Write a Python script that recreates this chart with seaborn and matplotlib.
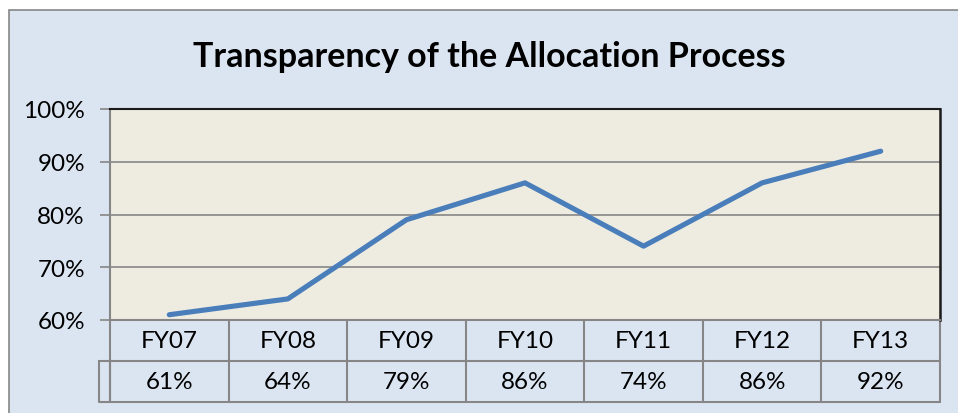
"""
Transparency of the Allocation Process - line chart with a data table underneath.
"""

import matplotlib
matplotlib.use("Agg")
import matplotlib.pyplot as plt
import matplotlib.transforms as mtransforms
from matplotlib.patches import Rectangle
import seaborn as sns

# --- data ---
years = ["FY07", "FY08", "FY09", "FY10", "FY11", "FY12", "FY13"]
values = [61, 64, 79, 86, 74, 86, 92]
y_ticks = [60, 70, 80, 90, 100]

# colours
bg_blue = "#dbe5f1"
plot_beige = "#eeece1"
line_blue = "#4a7ebb"
grid_gray = "#868686"


def main():
    sns.set_theme(style="white")
    plt.rcParams["font.family"] = ["Lato", "DejaVu Sans"]

    fig = plt.figure(figsize=(9.58, 4.14), dpi=100)
    fig.patch.set_facecolor("white")

    # outer chart frame
    W, H = 958, 414
    fig.patches.append(Rectangle((9 / W, -0.1), 1.2, (414 - 11) / H + 0.1,
                                 transform=fig.transFigure, facecolor=bg_blue,
                                 edgecolor=grid_gray, linewidth=1.2, zorder=-5))

    ax = fig.add_axes([110 / W, (414 - 321) / H, (940 - 110) / W, (321 - 110) / H])
    ax.set_zorder(2)
    ax.set_facecolor(plot_beige)

    x_pos = list(range(len(years)))
    sns.lineplot(x=x_pos, y=values, ax=ax, color=line_blue, linewidth=3.7,
                 solid_capstyle="round", solid_joinstyle="round", zorder=3)

    ax.set_xlim(-0.5, len(years) - 0.5)
    ax.set_ylim(60, 100)
    ax.set_yticks(y_ticks)
    ax.set_yticklabels([f"{v}%" for v in y_ticks], fontsize=17.5, color="black")
    ax.set_xticks([])
    ax.tick_params(axis="y", length=7, width=1.2, color=grid_gray, pad=11, left=True)
    ax.set_xlabel("")
    ax.set_ylabel("")

    for v in y_ticks[1:-1]:
        ax.axhline(v, color=grid_gray, linewidth=1.2, zorder=1)

    ax.spines["top"].set_color("#1a1a1a")
    ax.spines["right"].set_color("#1a1a1a")
    ax.spines["top"].set_linewidth(1.5)
    ax.spines["right"].set_linewidth(1.8)
    ax.spines["left"].set_color(grid_gray)
    ax.spines["bottom"].set_color(grid_gray)
    ax.spines["left"].set_linewidth(1.5)
    ax.spines["bottom"].set_linewidth(1.5)

    # --- data table under the axis ---
    trans = mtransforms.blended_transform_factory(ax.transData, ax.transAxes)
    row_h = 41 / 211
    r1_bot = -row_h
    r2_bot = -2 * row_h + 0.0
    line_kw = dict(color=grid_gray, linewidth=1.5, transform=trans, clip_on=False)
    n = len(years)
    for i in range(n + 1):
        ax.plot([i - 0.5, i - 0.5], [0, r2_bot], **line_kw)
    ax.plot([-0.5, n - 0.5], [r1_bot, r1_bot], **line_kw)
    ax.plot([-0.5, n - 0.5], [r2_bot, r2_bot], **line_kw)
    # empty legend-key cell on the left of the value row
    key_w = 11 / (830 / n)
    ax.plot([-0.5 - key_w, -0.5, -0.5, -0.5 - key_w, -0.5 - key_w],
            [r1_bot, r1_bot, r2_bot, r2_bot, r1_bot], **line_kw)

    for i, (yr, val) in enumerate(zip(years, values)):
        ax.text(i, r1_bot / 2, yr, transform=trans, ha="center", va="center",
                fontsize=17.5, color="black")
        ax.text(i, (r1_bot + r2_bot) / 2, f"{val}%", transform=trans,
                ha="center", va="center", fontsize=17.5, color="black")

    fig.text(489 / W, 1 - 57 / H, "Transparency of the Allocation Process",
             ha="center", va="center", fontsize=24.5, fontweight="bold", color="black")

    fig.savefig("out.png", dpi=100, facecolor=fig.get_facecolor())


if __name__ == "__main__":
    main()
